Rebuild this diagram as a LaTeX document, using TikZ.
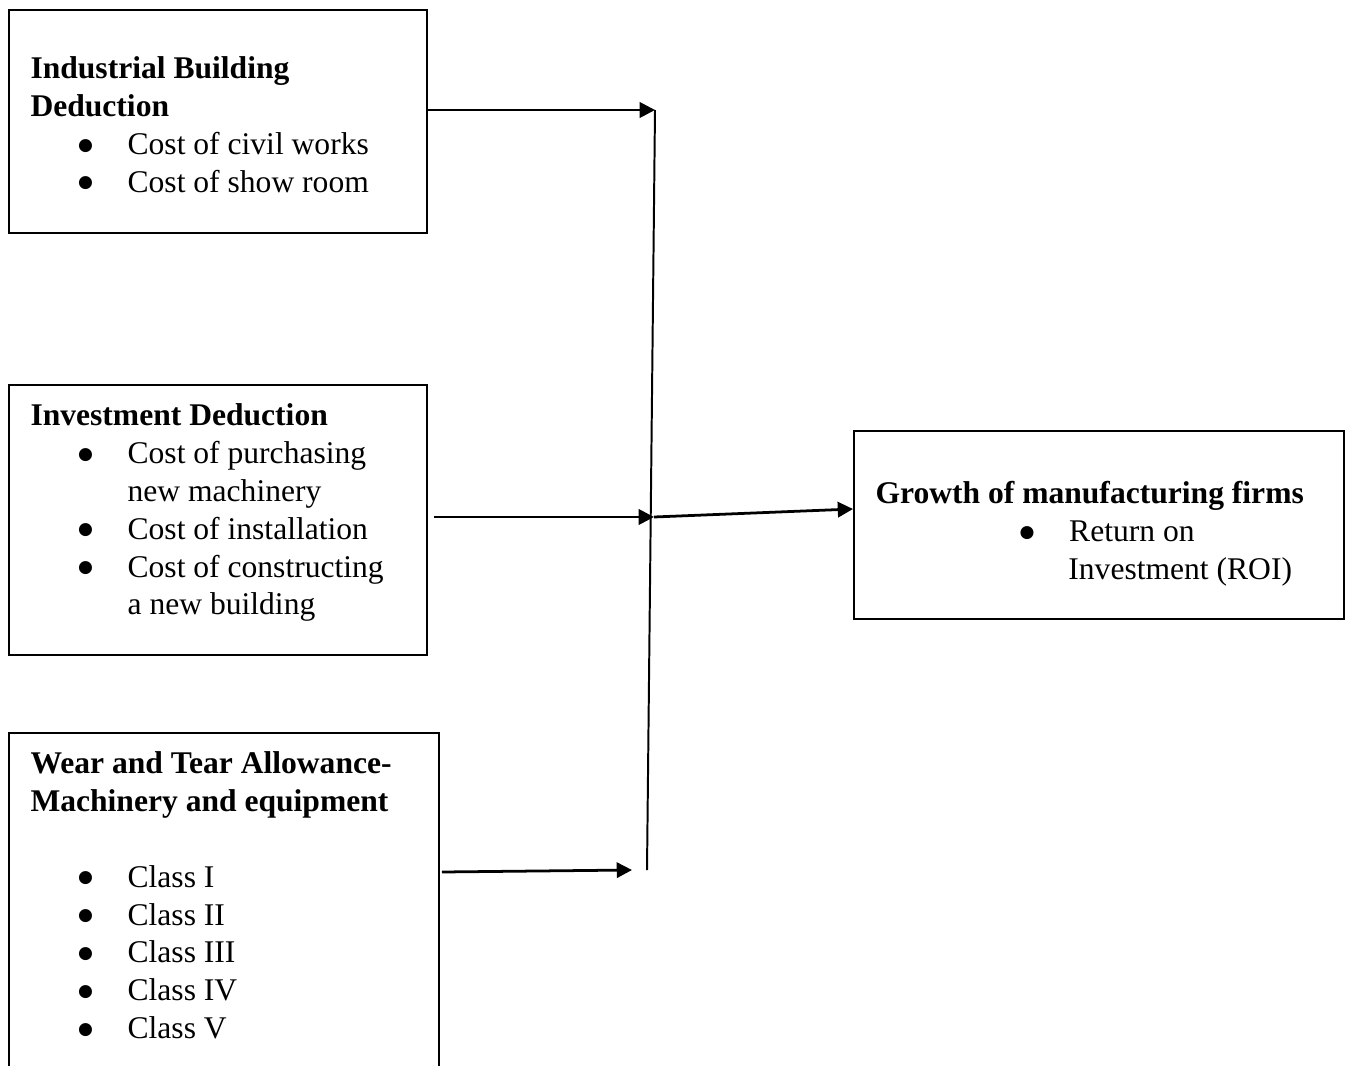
\documentclass[tikz,border=0pt]{standalone}
\usepackage{fontspec}
\setmainfont{Liberation Serif}
\newfontfamily\fwsym{DejaVu Sans}
\usetikzlibrary{positioning,arrows.meta,calc}
\tikzset{
  fw/.style={font=\fontsize{12pt}{14.4pt}\selectfont, text=black},
  fwbox/.style 2 args={
    draw=black, line width=0.75pt, inner sep=0pt,
    minimum width=#1*0.38pt, minimum height=#2*0.38pt
  },
  fwtxt/.style={fw, align=left, anchor=north west, inner sep=0pt},
  fwarr/.style={-{Triangle[length=5.8pt,width=5.8pt]}, line width=1.05pt, draw=black},
  fwline/.style={line width=0.75pt, draw=black},
}
\newcommand{\fwitem}[2][20.9pt]{\hspace*{#1}\makebox[0pt]{\raisebox{1.6pt}{\fwsym\fontsize{6.5pt}{7pt}\selectfont ●}}\hspace*{16pt}#2}
\newcommand{\fwcont}[2][36.9pt]{\hspace*{#1}#2}

\begin{document}
\begin{tikzpicture}[fw, x=0.38pt, y=-0.38pt]
    \useasboundingbox (0,0) rectangle (1349,1066);
    \clip (0,0) rectangle (1349,1066);

    % Deductions
    \node[fwbox={418}{223}] (ibd) at (218,121.5) {};
    \node[fwbox={418}{270}] (inv) at (218,520) {};
    \node[fwbox={430}{367}] (wta) at (224,916.5) {};

    % Outcome
    \node[fwbox={490}{188}] (gro) at (1099,525) {};

    \node[fwtxt] (ibdtxt) at (30,56) {\textbf{Industrial Building}\\\textbf{Deduction}\\
      \fwitem{Cost of civil works}\\\fwitem{Cost of show room}};
    \node[fwtxt] (invtxt) at (30,403) {\textbf{Investment Deduction}\\
      \fwitem{Cost of purchasing}\\\fwcont{new machinery}\\
      \fwitem{Cost of installation}\\
      \fwitem{Cost of constructing}\\\fwcont{a new building}};
    \node[fwtxt] (wtatxt) at (30,751) {\textbf{Wear and Tear Allowance-}\\\textbf{Machinery and equipment}\\[14.4pt]
      \fwitem{Class I}\\\fwitem{Class II}\\\fwitem{Class III}\\\fwitem{Class IV}\\\fwitem{Class V}};
    \node[fwtxt] (grotxt) at (875,481) {\textbf{Growth of manufacturing firms}\\
      \fwitem[57.6pt]{Return on}\\\fwcont[73.3pt]{Investment (ROI)}};

    \coordinate (top) at (655,110);
    \coordinate (hub) at (654,517);
    \coordinate (bot) at (647,870);
    \coordinate (tip3) at (632,870);
    \coordinate (groin) at (854,509);

    \draw[fwline] (top) -- (bot);

    \draw[fwarr] (ibd.east |- top) -- (top);
    \draw[fwarr] ($(inv.east |- hub)+(6,0)$) -- (hub);
    \draw[fwarr] ($(wta.east |- tip3)+(2,2)$) -- (tip3);
    \draw[fwarr] (hub) -- (gro.west |- groin);
  \end{tikzpicture}
\end{document}
